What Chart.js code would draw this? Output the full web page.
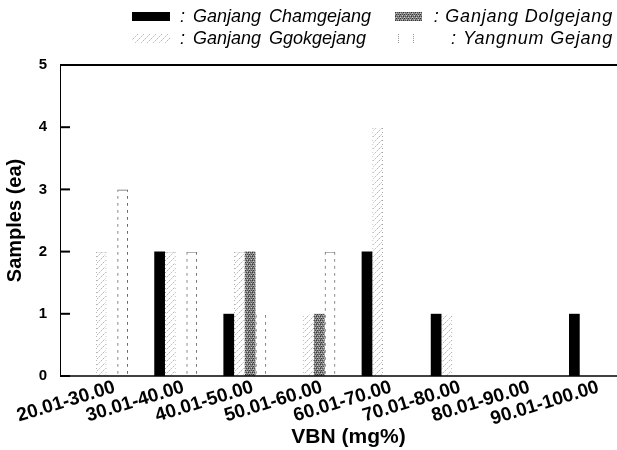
<!DOCTYPE html>
<html>
<head>
<meta charset="utf-8">
<script src="https://cdn.jsdelivr.net/npm/chart.js@4.4.1/dist/chart.umd.min.js"></script>
<style>
  html, body { margin: 0; padding: 0; background: #fff; overflow: hidden; width: 617px; height: 450px; }
  #wrap { position: relative; width: 617px; height: 450px; overflow: hidden; }
  #c { position: absolute; left: 0; top: 0; }
  .lg { position: absolute; font: italic 18px "Liberation Sans", Arial, sans-serif; color: #000; line-height: 20px; white-space: nowrap; }
  .sw { position: absolute; height: 9px; }
</style>
</head>
<body>
<div id="wrap">
  <canvas id="c" width="625" height="450" style="width:625px;height:450px"></canvas>

  <div class="sw" id="sw0" style="left:132px;top:12px;width:38px;background:#000"></div>
  <div class="lg" style="left:180px;top:6px">:</div>
  <div class="lg" style="left:193px;top:6px;word-spacing:3px">Ganjang Chamgejang</div>

  <div class="sw" id="sw1" style="left:132px;top:34px;width:38px"></div>
  <div class="lg" style="left:180px;top:28px">:</div>
  <div class="lg" style="left:193px;top:28px;word-spacing:3px">Ganjang Ggokgejang</div>

  <div class="sw" id="sw2" style="left:395px;top:12px;width:27px"></div>
  <div class="lg" style="right:4px;top:6px;letter-spacing:0.8px">: Ganjang Dolgejang</div>

  <div class="sw" id="sw3" style="left:398px;top:34px;width:14px;border-left:1px dotted #999;border-right:1px dotted #999"></div>
  <div class="lg" style="left:451px;top:28px">:</div>
  <div class="lg" style="right:4px;top:28px;letter-spacing:0.8px">Yangnum Gejang</div>
</div>
<script>
// VBN ranges and sample counts per soy sauce type
var categories = ['20.01-30.00', '30.01-40.00', '40.01-50.00', '50.01-60.00',
                  '60.01-70.00', '70.01-80.00', '80.01-90.00', '90.01-100.00'];
var chamgejang = [0, 2, 1, 0, 2, 1, 0, 1];
var ggokgejang = [2, 2, 2, 1, 4, 1, 0, 0];
var dolgejang  = [0, 0, 2, 1, 0, 0, 0, 0];
var yangnum    = [3, 2, 1, 2, 0, 0, 0, 0];
var yTicks = [0, 1, 2, 3, 4, 5];

var FONT = '"Liberation Sans", Arial, sans-serif';

// small pixel tiles used as bar fills
function makeTile(w, h, base, dots) {
  var t = document.createElement('canvas');
  t.width = w; t.height = h;
  var g = t.getContext('2d');
  if (base) { g.fillStyle = base; g.fillRect(0, 0, w, h); }
  dots.forEach(function (d) { g.fillStyle = d[2]; g.fillRect(d[0], d[1], 1, 1); });
  return t;
}

var ggokTile = makeTile(6, 6, '#fff', [
  [5, 0, '#b8b8b8'], [3, 2, '#c4c4c4'], [1, 4, '#b8b8b8'],
  [4, 1, '#e2e2e2'], [0, 5, '#d8d8d8'], [2, 3, '#e0e0e0']
]);
var dolgTile = makeTile(4, 4, '#8a8a8a', [
  [0, 0, '#333'], [2, 0, '#4a4a4a'], [1, 2, '#333'], [3, 2, '#4a4a4a'],
  [1, 1, '#c8c8c8'], [3, 3, '#c8c8c8'], [0, 3, '#666']
]);
var ggokEdge = makeTile(1, 4, null, [[0, 0, '#9a9a9a']]);
var yangEdge = makeTile(1, 7, null, [[0, 0, '#666'], [0, 1, '#666'], [0, 2, '#888']]);

document.getElementById('sw1').style.background = 'url(' + ggokTile.toDataURL() + ')';
document.getElementById('sw2').style.background = 'url(' + dolgTile.toDataURL() + ')';

var ctx = document.getElementById('c').getContext('2d');
var ggokFill = ctx.createPattern(ggokTile, 'repeat');
var dolgFill = ctx.createPattern(dolgTile, 'repeat');
var ggokLine = ctx.createPattern(ggokEdge, 'repeat');
var yangLine = ctx.createPattern(yangEdge, 'repeat');

var AXIS_GAP = 12; // y axis line sits left of the first category

var frame = {
  id: 'frame',
  afterDatasetsDraw: function (chart) {
    var a = chart.chartArea, c = chart.ctx, y = chart.scales.y;
    var x0 = a.left - AXIS_GAP;
    c.save();
    c.strokeStyle = '#000';
    c.lineWidth = 2;
    c.beginPath();
    c.moveTo(x0, a.top); c.lineTo(a.right, a.top);
    c.stroke();
    c.lineWidth = 1.5;
    c.beginPath();
    c.moveTo(x0, a.bottom); c.lineTo(a.right, a.bottom);
    c.stroke();
    c.lineWidth = 1;
    c.beginPath();
    c.moveTo(x0 + 0.5, a.top); c.lineTo(x0 + 0.5, a.bottom);
    c.stroke();
    c.lineWidth = 2;
    yTicks.forEach(function (v) {
      var py = y.getPixelForValue(v);
      c.beginPath();
      c.moveTo(x0, py); c.lineTo(x0 + 10, py);
      c.stroke();
    });
    c.restore();
  }
};

new Chart(ctx, {
  type: 'bar',
  data: {
    labels: categories,
    datasets: [
      { label: 'Ganjang Chamgejang', data: chamgejang, backgroundColor: '#000', borderWidth: 0 },
      { label: 'Ganjang Ggokgejang', data: ggokgejang, backgroundColor: ggokFill,
        borderColor: ggokLine, borderWidth: { left: 1, right: 1, top: 1 } },
      { label: 'Ganjang Dolgejang', data: dolgejang, backgroundColor: dolgFill, borderWidth: 0 },
      { label: 'Yangnum Gejang', data: yangnum, backgroundColor: 'rgba(255,255,255,0)',
        borderColor: yangLine, borderWidth: { left: 1, right: 1, top: 1 } }
    ]
  },
  options: {
    responsive: false,
    animation: false,
    events: [],
    layout: { padding: { top: 65, left: 0, right: 0, bottom: 0 } },
    datasets: { bar: { categoryPercentage: 0.62, barPercentage: 1 } },
    plugins: { legend: { display: false }, tooltip: { enabled: false } },
    scales: {
      x: {
        offset: true,
        grid: { display: false, drawTicks: false },
        border: { display: false },
        ticks: {
          autoSkip: false, minRotation: 17, maxRotation: 17, padding: 0, labelOffset: 8,
          color: '#000', font: { family: FONT, size: 19, weight: 'bold' }
        },
        title: {
          display: true, text: 'VBN (mg%)', color: '#000',
          font: { family: FONT, size: 21, weight: 'bold' }, padding: { top: 0, bottom: 0 }
        },
        afterFit: function (s) { s.height = 74; }
      },
      y: {
        min: 0, max: 5,
        grid: { display: false, drawTicks: false },
        border: { display: false },
        ticks: {
          stepSize: 1, padding: 25, color: '#000',
          font: { family: FONT, size: 15, weight: 'bold' }
        },
        title: {
          display: true, text: 'Samples (ea)', color: '#000',
          font: { family: FONT, size: 20, weight: 'bold' }, padding: { top: 3, bottom: 0 }
        },
        afterFit: function (s) { s.width = 72; }
      }
    }
  },
  plugins: [frame]
});
</script>
</body>
</html>
